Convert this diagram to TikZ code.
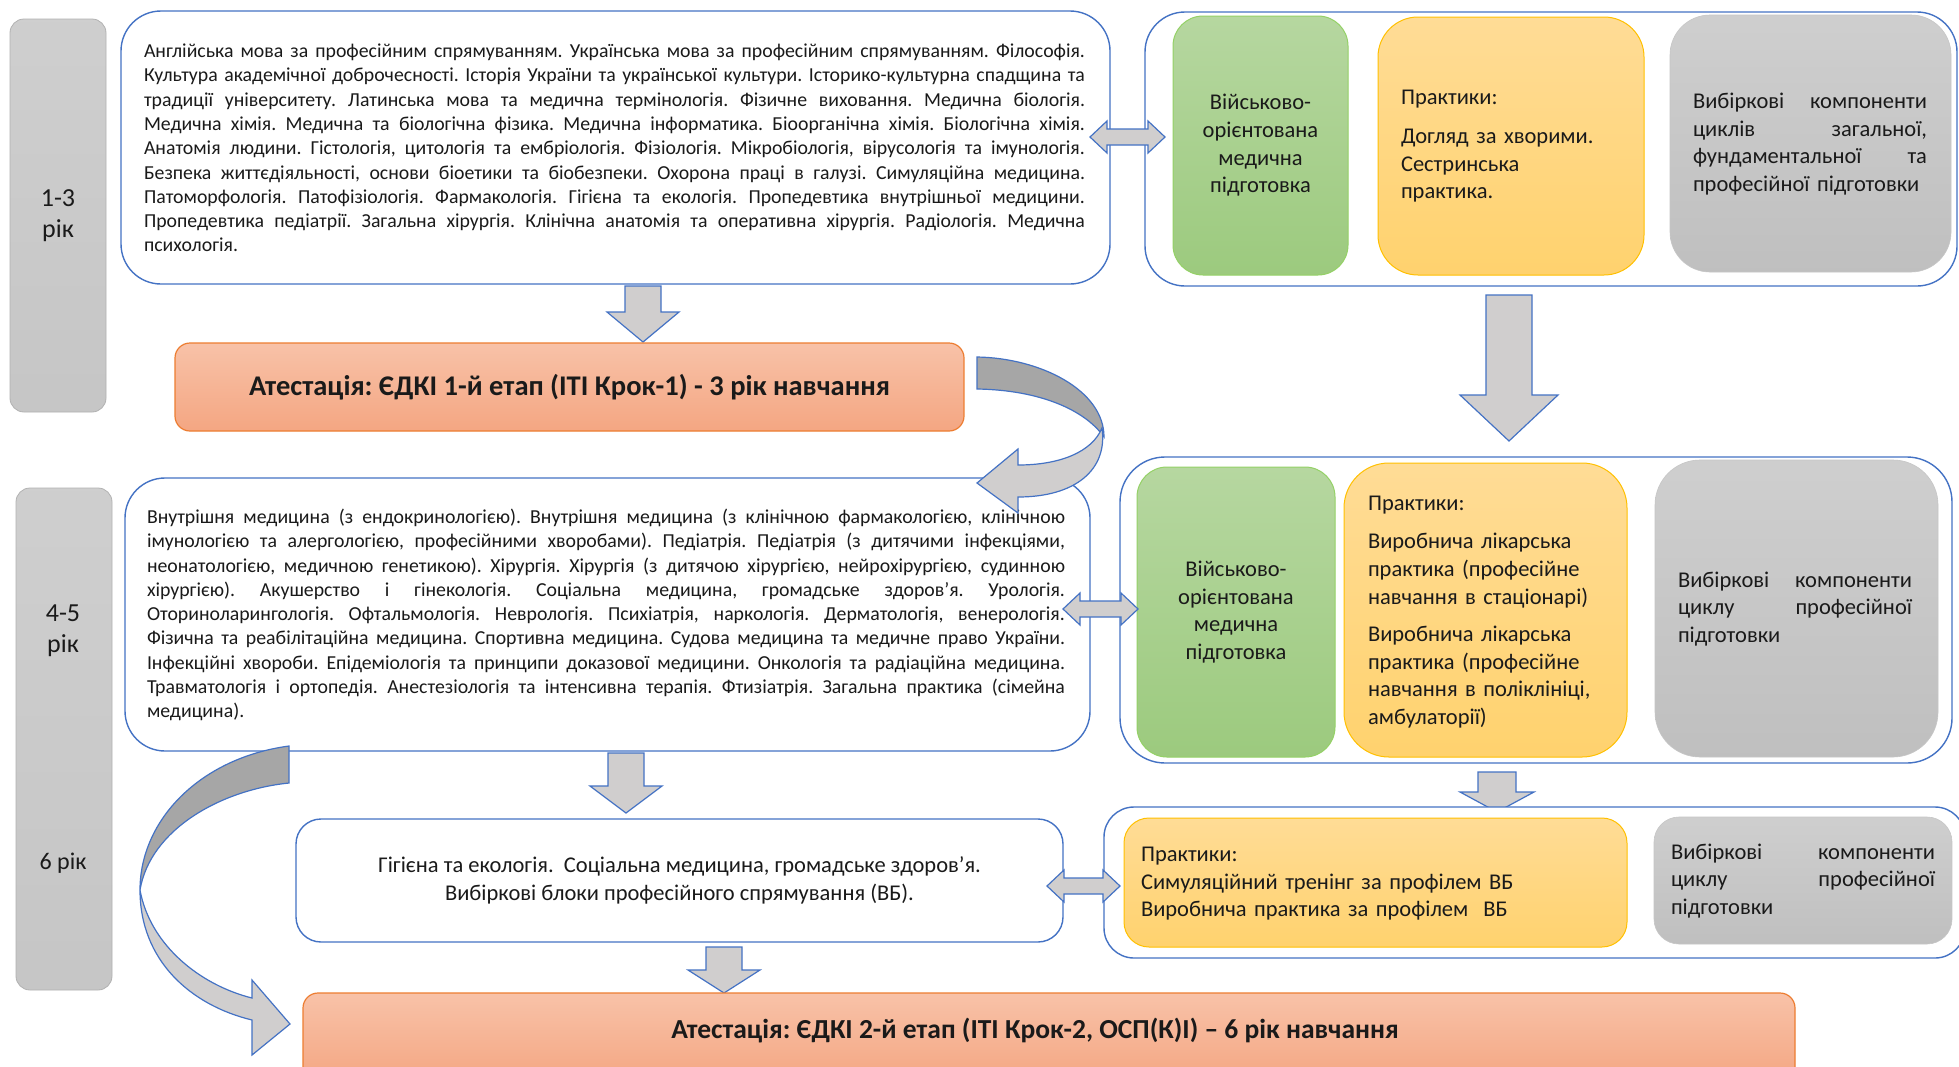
\documentclass[tikz,border=0pt]{standalone}
\usepackage{fontspec}
\setmainfont{Carlito}
\frenchspacing
\definecolor{bl}{HTML}{4472C4}
\definecolor{agray}{HTML}{D0CECE}
\definecolor{dgray}{HTML}{A6A6A6}
\definecolor{txt}{HTML}{1A1A1A}
\newlength\Jw
\newcommand\J[1]{\leavevmode{\spaceskip=0.226em plus 2em minus 0.06em\relax\hbox to \Jw{#1}}}
\newcommand\bodyfont{\fontsize{19.8}{24.3}\selectfont}
\newcommand\innerfont{\fontsize{22.5}{27.6}\selectfont}
\newcommand\yearfont{\fontsize{26}{31}\selectfont}
\newcommand\attfont{\fontsize{27.5}{30}\selectfont\bfseries}
% down block arrow: cx, ytop, yhead, ytip, shaft half, head half
\newcommand\dnarrow[6]{\draw[barrow] (#1-#5,#2) -- (#1+#5,#2) -- (#1+#5,#3) -- (#1+#6,#3) -- (#1,#4) -- (#1-#6,#3) -- (#1-#5,#3) -- cycle;}
% double block arrow: xl, xr, cy
\newcommand\lrarrow[3]{\draw[barrow] (#1,#3) -- (#1+17,#3-16) -- (#1+17,#3-8) -- (#2-17,#3-8) -- (#2-17,#3-16) -- (#2,#3) -- (#2-17,#3+16) -- (#2-17,#3+8) -- (#1+17,#3+8) -- (#1+17,#3+16) -- cycle;}
\begin{document}
\begin{tikzpicture}[x=1pt,y=-1pt,
  every node/.style={inner sep=0pt, outer sep=0pt, text=txt},
  wbox/.style={draw=bl, line width=1.4pt, fill=white},
  yearbox/.style={draw=gray!60, line width=0.8pt, top color=gray!38, bottom color=gray!45, rounded corners=14pt},
  grn/.style={draw=green!40!olive!60, line width=1pt, top color={rgb,255:red,182;green,215;blue,160}, bottom color={rgb,255:red,156;green,202;blue,126}},
  yel/.style={draw={rgb,255:red,255;green,192;blue,0}, line width=1pt, top color={rgb,255:red,255;green,220;blue,150}, bottom color={rgb,255:red,255;green,210;blue,110}},
  gry/.style={draw=gray!45, line width=0.6pt, top color=gray!38, bottom color=gray!50},
  att/.style={draw={rgb,255:red,237;green,125;blue,49}, line width=1.2pt, top color={rgb,255:red,248;green,194;blue,168}, bottom color={rgb,255:red,244;green,166;blue,130}, rounded corners=15pt},
  barrow/.style={draw=bl, line width=1.2pt, fill=agray, line join=miter},
  carrow/.style={draw=bl, line width=1.2pt}
]
\useasboundingbox (0,0) rectangle (1959,1066);
\clip (0,0) rectangle (1959,1066);
\fill[white] (0,0) rectangle (1959,1066);

% year boxes
\node[yearbox, minimum width=96pt, minimum height=393pt] (y1) at (58,215.5) {};
\node[font=\yearfont, align=center] (y1t) at (58,215.5) {1-3\\рік};
\node[yearbox, minimum width=96pt, minimum height=502pt] (y2) at (64,739) {};
\node[font=\yearfont, align=center] (y2t) at (63,631) {4-5\\рік};
\node[font=\fontsize{24}{28}\selectfont] (y3t) at (63,863) {6 рік};

% row 1
\node[wbox, rounded corners=40pt, minimum width=989pt, minimum height=273pt] (b1) at (615.5,147.5) {};
\node[font=\bodyfont, text width=941pt, align=left] (b1t) at (614.5,148) {\setlength\Jw{941pt}%
\J{Англійська мова за професійним спрямуванням. Українська мова за професійним спрямуванням. Філософія.}\\
\J{Культура академічної доброчесності. Історія України та української культури. Історико-культурна спадщина та}\\
\J{традиції університету. Латинська мова та медична термінологія. Фізичне виховання. Медична біологія.}\\
\J{Медична хімія. Медична та біологічна фізика. Медична інформатика. Біоорганічна хімія. Біологічна хімія.}\\
\J{Анатомія людини. Гістологія, цитологія та ембріологія. Фізіологія. Мікробіологія, вірусологія та імунологія.}\\
\J{Безпека життєдіяльності, основи біоетики та біобезпеки. Охорона праці в галузі. Симуляційна медицина.}\\
\J{Патоморфологія. Патофізіологія. Фармакологія. Гігієна та екологія. Пропедевтика внутрішньої медицини.}\\
\J{Пропедевтика педіатрії. Загальна хірургія. Клінічна анатомія та оперативна хірургія. Радіологія. Медична}\\
психологія.};

\node[wbox, rounded corners=40pt, minimum width=812pt, minimum height=274pt] (g1) at (1551,149) {};
\node[grn, rounded corners=30pt, minimum width=175pt, minimum height=259pt, font=\innerfont, align=center] (gr1) at (1260.5,145.5) {Військово-\\орієнтована\\медична\\підготовка};
\node[yel, rounded corners=40pt, minimum width=266pt, minimum height=258pt] (ye1) at (1511,146) {};
\node[font=\innerfont, text width=220pt, align=left] (ye1t) at (ye1) {Практики:\\[12pt]Догляд за хворими.\\Сестринська\\практика.};
\node[gry, rounded corners=40pt, minimum width=281pt, minimum height=257pt] (gy1) at (1810.5,143.5) {};
\node[font=\innerfont, text width=234pt, align=left] (gy1t) at (1810,144) {\setlength\Jw{234pt}\J{Вибіркові компоненти}\\\J{циклів загальної,}\\\J{фундаментальної та}\\професійної підготовки};

\lrarrow{1090}{1165}{137}
\dnarrow{643}{286}{312}{342}{18}{36}
\dnarrow{1509}{295}{395}{441}{23}{49}

\node[att, minimum width=789pt, minimum height=88pt] (a1) at (569.5,387) {};
\node[font=\fontsize{28.5}{30}\selectfont\bfseries] (a1t) at (a1) {Атестація: ЄДКІ 1-й етап (ІТІ Крок-1) - 3 рік навчання};

% row 2
\node[wbox, rounded corners=40pt, minimum width=965pt, minimum height=273pt] (b2) at (607.5,614.5) {};
\node[font=\bodyfont, text width=918pt, align=left] (b2t) at (606,615) {\setlength\Jw{918pt}%
\J{Внутрішня медицина (з ендокринологією). Внутрішня медицина (з клінічною фармакологією, клінічною}\\
\J{імунологією та алергологією, професійними хворобами). Педіатрія. Педіатрія (з дитячими інфекціями,}\\
\J{неонатологією, медичною генетикою). Хірургія. Хірургія (з дитячою хірургією, нейрохірургією, судинною}\\
\J{хірургією). Акушерство і гінекологія. Соціальна медицина, громадське здоров’я. Урологія.}\\
\J{Оториноларингологія. Офтальмологія. Неврологія. Психіатрія, наркологія. Дерматологія, венерологія.}\\
\J{Фізична та реабілітаційна медицина. Спортивна медицина. Судова медицина та медичне право України.}\\
\J{Інфекційні хвороби. Епідеміологія та принципи доказової медицини. Онкологія та радіаційна медицина.}\\
\J{Травматологія і ортопедія. Анестезіологія та інтенсивна терапія. Фтизіатрія. Загальна практика (сімейна}\\
медицина).};

\node[wbox, rounded corners=45pt, minimum width=832pt, minimum height=306pt] (g2) at (1536,610) {};
\node[grn, rounded corners=30pt, minimum width=198pt, minimum height=290pt, font=\innerfont, align=center] (gr2) at (1236,612) {Військово-\\орієнтована\\медична\\підготовка};
\node[yel, rounded corners=45pt, minimum width=283pt, minimum height=294pt] (ye2) at (1485.5,610) {};
\node[font=\innerfont, text width=236pt, align=left] (ye2t) at (1486,612) {Практики:\\[11pt]Виробнича лікарська\\практика (професійне\\навчання в стаціонарі)\\[10pt]Виробнича лікарська\\практика (професійне\\навчання в поліклініці,\\амбулаторії)};
\node[gry, rounded corners=45pt, minimum width=283pt, minimum height=297pt] (gy2) at (1796.5,608.5) {};
\node[font=\innerfont, text width=234pt, align=left] (gy2t) at (1795,609) {\setlength\Jw{234pt}\J{Вибіркові компоненти}\\\J{циклу професійної}\\підготовки};

\lrarrow{1063}{1138}{609}
\dnarrow{626}{753}{786}{813}{18}{36}
\dnarrow{1497}{772}{792}{812}{19}{37}

% row 3
\node[wbox, rounded corners=25pt, minimum width=767pt, minimum height=123pt, font=\innerfont, align=center] (b3) at (679.5,880.5) {Гігієна та екологія.\ \ Соціальна медицина, громадське здоров’я.\\Вибіркові блоки професійного спрямування (ВБ).};
\node[wbox, rounded corners=30pt, minimum width=861pt, minimum height=151pt] (g3) at (1534.5,882.5) {};
\node[yel, rounded corners=25pt, minimum width=503pt, minimum height=129pt] (ye3) at (1375.5,882.5) {};
\node[font=\innerfont, text width=470pt, align=left] (ye3t) at (1376,884) {Практики:\\Симуляційний тренінг за профілем ВБ\\Виробнича практика за профілем\ \ ВБ};
\node[gry, rounded corners=25pt, minimum width=298pt, minimum height=127pt] (gy3) at (1803,880.5) {};
\node[font=\innerfont, text width=264pt, align=left] (gy3t) at (1803,881) {\setlength\Jw{264pt}\J{Вибіркові компоненти}\\\J{циклу професійної}\\підготовки};

\lrarrow{1047}{1120}{886}
\dnarrow{724}{947}{970}{993}{18}{36}

\node[att, minimum width=1492pt, minimum height=90pt] (a2) at (1049,1038) {};
\node[font=\attfont] (a2t) at (1035,1030) {Атестація: ЄДКІ 2-й етап (ІТІ Крок-2, ОСП(К)І) – 6 рік навчання};

% curved arrow 1 (from attestation 1 to box 2)
\coordinate (c1tail) at (977,357);
\draw[carrow, fill=dgray] (c1tail) .. controls (1040,358) and (1104,390) .. (1104,437) .. controls (1085,410) and (1040,390) .. (977,389) -- cycle;
\draw[carrow, fill=agray, line join=miter] (1102,428) .. controls (1092,452) and (1060,465) .. (1018,465) -- (1018,449) -- (977,483) -- (1018,513) -- (1018,497) .. controls (1075,497) and (1108,470) .. (1102,428) -- cycle;

% curved arrow 2 (from box 2 to attestation 2)
\coordinate (c2tail) at (289,746);
\draw[carrow, fill=dgray] (c2tail) .. controls (200,758) and (140,820) .. (140,890) .. controls (150,830) and (220,790) .. (289,783) -- cycle;
\draw[carrow, fill=agray, line join=miter] (140,890) .. controls (140,960) and (190,1005) .. (252,1020) -- (252,1055) -- (290,1024) -- (252,980) -- (252,998) .. controls (200,985) and (150,945) .. (140,890) -- cycle;
\end{tikzpicture}
\end{document}
